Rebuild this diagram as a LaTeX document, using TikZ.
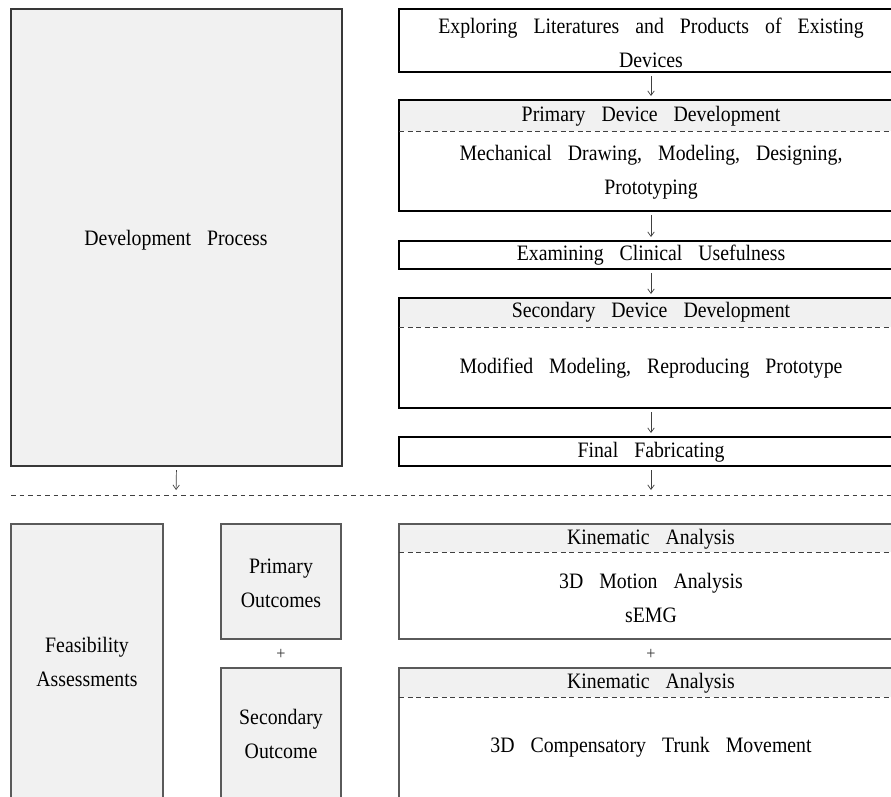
\documentclass[tikz,border=0pt]{standalone}
\usepackage{fontspec}
\setmainfont[FakeStretch=0.9]{Liberation Serif}
\usetikzlibrary{arrows.meta}
\newcommand\labfont{\fontsize{22}{34}\selectfont\spaceskip=16pt\relax}
\definecolor{panel}{HTML}{F1F1F1}
\definecolor{rulegray}{HTML}{5A5A5A}
\tikzset{
  x=1pt, y=-1pt,
  every node/.style={inner sep=0pt, outer sep=0pt},
  topbox/.style={draw=black, line width=1.2pt, rectangle, anchor=north west},
  lowbox/.style={draw=rulegray, line width=1.4pt, rectangle, anchor=north west},
  bigbox/.style={draw=black!78, line width=1.4pt, fill=panel, rectangle, anchor=north west},
  hdr/.style={fill=panel},
  hdrline/.style={draw=black!75, line width=0.9pt, dash pattern=on 5pt off 3.5pt},
  label/.style={font=\labfont, align=center, text height=15pt, text depth=5pt},
  lines/.style={font=\labfont, align=center},
  flow/.style={draw=black!75, line width=0.7pt, -{Straight Barb[length=4.5pt,width=6.5pt]}},
  plus/.style={font=\fontsize{18}{18}\selectfont, text=black!80}
}
\begin{document}
\begin{tikzpicture}
\useasboundingbox (0,0) rectangle (891,796);
\clip (0,0) rectangle (891,796);
\fill[white] (0,0) rectangle (891,796);

% ---------- development process ----------
\node[bigbox, minimum width=331pt, minimum height=457pt] (dev) at (11,9) {};
\node[label] (devt) at (176,240) {Development Process};

\node[topbox, minimum width=504pt, minimum height=63pt] (b1) at (399,9) {};
\node[lines] (b1t) at (651,43) {Exploring Literatures and Products of Existing\\Devices};

\fill[hdr] (399,100) rectangle (903,131);
\node[topbox, minimum width=504pt, minimum height=111pt] (b2) at (399,100) {};
\draw[hdrline] (399,131) -- (903,131);
\node[label] (b2h) at (651,116) {Primary Device Development};
\node[lines] (b2t) at (651,172) {Mechanical Drawing, Modeling, Designing,\\Prototyping};

\node[topbox, minimum width=504pt, minimum height=28pt] (b3) at (399,241) {};
\node[label] (b3t) at (651,255) {Examining Clinical Usefulness};

\fill[hdr] (399,298) rectangle (903,327);
\node[topbox, minimum width=504pt, minimum height=110pt] (b4) at (399,298) {};
\draw[hdrline] (399,327) -- (903,327);
\node[label] (b4h) at (651,312) {Secondary Device Development};
\node[label] (b4t) at (651,368) {Modified Modeling, Reproducing Prototype};

\node[topbox, minimum width=504pt, minimum height=29pt] (b5) at (399,437) {};
\node[label] (b5t) at (651,452) {Final Fabricating};

\draw[flow, shorten <=4pt, shorten >=4pt] (b1.south) -- (b2.north);
\draw[flow, shorten <=4pt, shorten >=4pt] (b2.south) -- (b3.north);
\draw[flow, shorten <=4pt, shorten >=4pt] (b3.south) -- (b4.north);
\draw[flow, shorten <=4pt, shorten >=4pt] (b4.south) -- (b5.north);

% ---------- separator ----------
\coordinate (sepW) at (11,495);
\coordinate (sepE) at (891,495);
\coordinate (sepL) at (176,495);
\coordinate (sepR) at (651,495);
\draw[draw=black!75, line width=0.9pt, dash pattern=on 4.5pt off 4pt] (sepW) -- (sepE);
\draw[flow, shorten <=4pt, shorten >=5pt] (dev.south) -- (sepL);
\draw[flow, shorten <=4pt, shorten >=5pt] (b5.south) -- (sepR);

% ---------- feasibility assessments ----------
\node[lowbox, fill=panel, minimum width=152pt, minimum height=275pt] (fa) at (11,524) {};
\node[lines] (fat) at (87,662) {Feasibility\\Assessments};

\node[lowbox, fill=panel, minimum width=120pt, minimum height=115pt] (po) at (221,524) {};
\node[lines] (pot) at (281,583) {Primary\\Outcomes};

\node[plus] (p1) at (281,654) {+};

\node[lowbox, fill=panel, minimum width=120pt, minimum height=131pt] (so) at (221,668) {};
\node[lines] (sot) at (281,734) {Secondary\\Outcome};

\fill[hdr] (399,524) rectangle (903,552);
\node[lowbox, minimum width=504pt, minimum height=115pt] (k1) at (399,524) {};
\draw[hdrline] (399,552) -- (903,552);
\node[label] (k1h) at (651,539) {Kinematic Analysis};
\node[lines] (k1t) at (651,598) {3D Motion Analysis\\sEMG};

\node[plus] (p2) at (651,654) {+};

\fill[hdr] (399,668) rectangle (903,697);
\node[lowbox, minimum width=504pt, minimum height=131pt] (k2) at (399,668) {};
\draw[hdrline] (399,697) -- (903,697);
\node[label] (k2h) at (651,683) {Kinematic Analysis};
\node[label] (k2t) at (651,747) {3D Compensatory Trunk Movement};
\end{tikzpicture}
\end{document}
